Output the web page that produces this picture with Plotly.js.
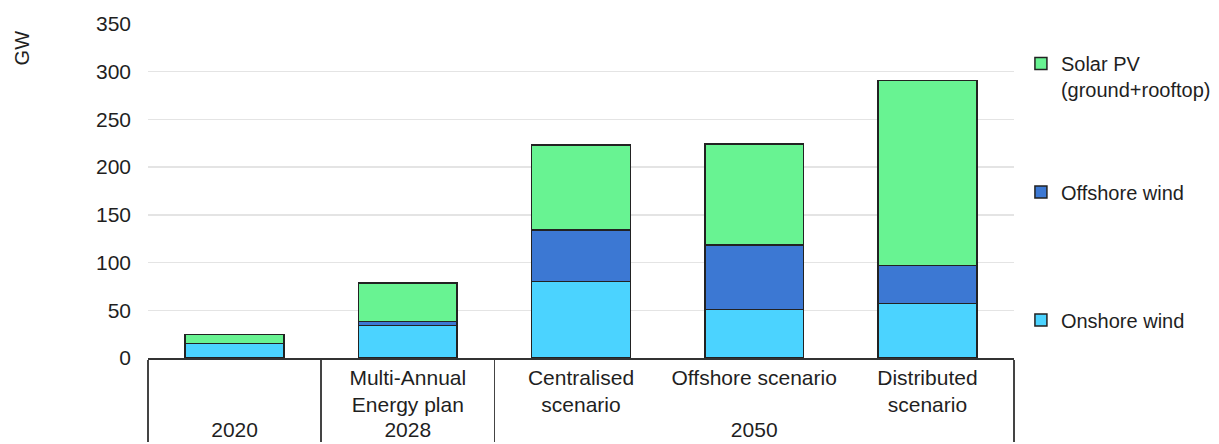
<!DOCTYPE html>
<html>
<head>
<meta charset="utf-8">
<script src="https://cdn.plot.ly/plotly-3.0.1.min.js"></script>
<style>html,body{margin:0;padding:0;background:#fff;}#chart{width:1219px;height:444px;}</style>
</head>
<body>
<div id="chart"></div>
<script>
// Data
const groupLabels = ["2020", "2028", "2050", "2050", "2050"];
const categoryLabels = [" ", "Multi-Annual<br>Energy plan", "Centralised<br>scenario", "Offshore scenario", "Distributed<br>scenario"];
const onshoreWind = [15, 34, 80, 51, 57];
const offshoreWind = [0, 4.5, 54, 67.5, 40];
const solarPV = [9.5, 40, 89, 106, 194];
const yTicks = [0, 50, 100, 150, 200, 250, 300, 350];

const fontFam = "Liberation Sans, Arial, sans-serif";
const txtColor = "#1f1f1f";
const fs = 21;
const edge = {color: "#222222", width: 1.5};
const x = [groupLabels, categoryLabels];

const traces = [
  {type: "bar", name: "Onshore wind", x: x, y: onshoreWind, marker: {color: "#4BD3FF", line: edge}, legend: "legend3", showlegend: true, hoverinfo: "y+name"},
  {type: "bar", name: "Offshore wind", x: x, y: offshoreWind, marker: {color: "#3C78D3", line: edge}, legend: "legend2", showlegend: true, hoverinfo: "y+name"},
  {type: "bar", name: "Solar PV<br>(ground+rooftop)", x: x, y: solarPV, marker: {color: "#68F392", line: edge}, legend: "legend", showlegend: true, hoverinfo: "y+name"}
];

const legX = 1.008;
function leg(y) {
  return {x: legX, xanchor: "left", y: y, yanchor: "middle", valign: "top", visible: true,
          font: {family: fontFam, size: 20, color: txtColor}, bgcolor: "rgba(0,0,0,0)"};
}

const layout = {
  width: 1219, height: 444,
  showlegend: true,
  margin: {l: 148, r: 205, t: 24, b: 86, autoexpand: false},
  barmode: "stack",
  bargap: 0.43,
  paper_bgcolor: "#ffffff",
  plot_bgcolor: "#ffffff",
  font: {family: fontFam, size: fs, color: txtColor},
  xaxis: {
    type: "multicategory",
    showline: true, linecolor: "#333333", linewidth: 1.5,
    showdividers: true, dividercolor: "#444444", dividerwidth: 1.5,
    ticks: "", showgrid: false, tickangle: 0,
    tickfont: {family: fontFam, size: fs, color: txtColor}
  },
  yaxis: {
    range: [0, 350],
    tickvals: yTicks,
    ticktext: yTicks.map(String),
    showgrid: true, gridcolor: "#e4e4e4", gridwidth: 1.5,
    zeroline: false, showline: false, ticks: "",
    ticklabelstandoff: 16,
    tickfont: {family: fontFam, size: fs, color: txtColor}
  },
  legend: leg(0.843),
  legend2: leg(0.497),
  legend3: leg(0.114),
  annotations: [
    {text: "GW", xref: "paper", yref: "paper", x: -0.1455, y: 0.93, xanchor: "center", yanchor: "middle",
     textangle: -90, showarrow: false, font: {family: fontFam, size: 20, color: txtColor}}
  ]
};

Plotly.newPlot("chart", traces, layout, {displayModeBar: false, staticPlot: true});
</script>
</body>
</html>
